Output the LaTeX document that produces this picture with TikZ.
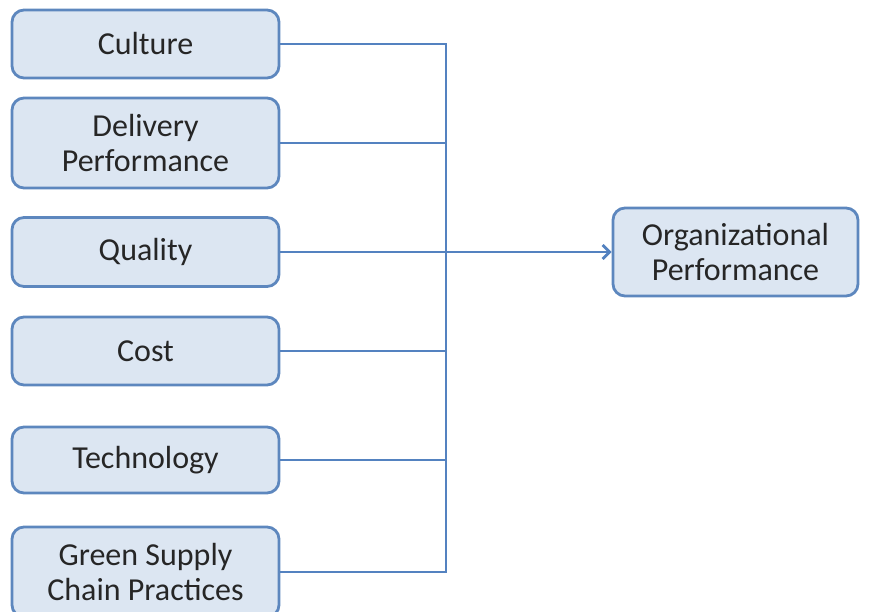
\documentclass[tikz,border=0pt]{standalone}
\usepackage{fontspec}
\setmainfont{Carlito}
\usepackage{tikz}
\usetikzlibrary{positioning, arrows.meta}
\definecolor{boxline}{RGB}{93,135,190}
\definecolor{boxfill}{RGB}{220,230,242}
\definecolor{linkline}{RGB}{84,130,192}
\definecolor{boxtext}{RGB}{38,38,38}
\tikzset{
  factor/.style={draw=boxline, fill=boxfill, line width=2.8pt, rounded corners=12pt,
    minimum width=267pt, inner sep=0pt, align=center, text=boxtext,
    font=\fontsize{32}{35}\selectfont},
  link/.style={draw=linkline, line width=2.8pt}
}
\begin{document}
\begin{tikzpicture}[x=1pt,y=-1pt,>={Straight Barb[length=7pt,width=14pt]}]
\useasboundingbox (0,0) rectangle (872,612);
% factors
\node[factor, minimum height=68pt] (cult) at (145.5,44) {Culture};
\node[factor, minimum height=90pt] (deliv) at (145.5,143) {Delivery\\Performance};
\node[factor, minimum height=69pt] (qual) at (145.5,252) {Quality};
\node[factor, minimum height=68pt] (cost) at (145.5,351) {Cost};
\node[factor, minimum height=66pt] (tech) at (145.5,460) {Technology};
\node[factor, minimum height=90pt] (gscp) at (145.5,572) {Green Supply\\Chain Practices};
% outcome
\node[factor, minimum width=245pt, minimum height=88pt] (orgp) at (735.5,252) {Organizational\\Performance};
% bus
\coordinate (bus) at (446,0);
\draw[link] (cult.east) -- (cult.east -| bus) -- (gscp.east -| bus) -- (gscp.east);
\draw[link] (deliv.east) -- (deliv.east -| bus);
\draw[link] (cost.east) -- (cost.east -| bus);
\draw[link] (tech.east) -- (tech.east -| bus);
\draw[link,->] (qual.east) -- (orgp.west);
\end{tikzpicture}
\end{document}
